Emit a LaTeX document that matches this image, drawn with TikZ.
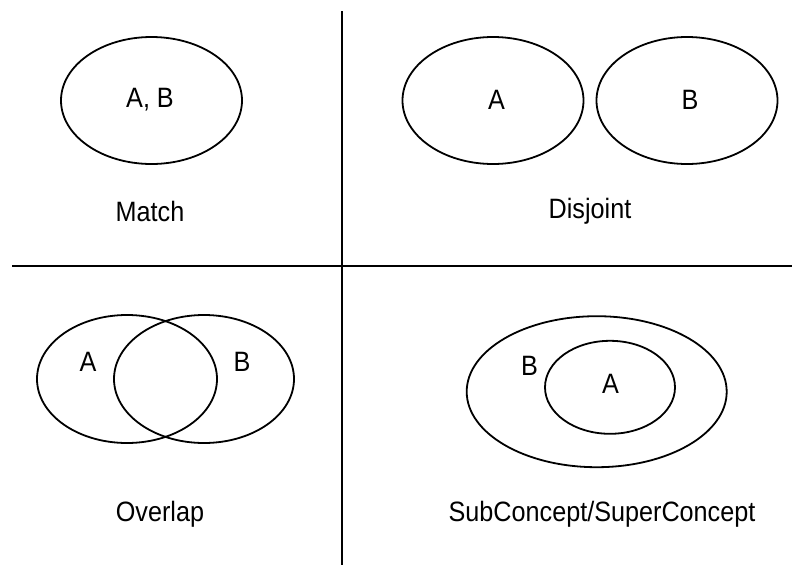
\documentclass[tikz,border=0pt]{standalone}
\usepackage{fontspec}
\setmainfont{Liberation Sans}
\usetikzlibrary{shapes.geometric}
\newcommand{\narrowtxt}[1]{\scalebox{0.9}[1]{#1}}
\begin{document}
\begin{tikzpicture}[x=1pt,y=-1pt,
  set/.style={draw, ellipse, line width=1.8pt, inner sep=0pt, minimum width=#1},
  lbl/.style={font=\fontsize{28}{32}\selectfont, inner sep=0pt},
  rule/.style={line width=1.8pt}]
\useasboundingbox (0,0) rectangle (792,565);
% dividers
\coordinate (vt) at (342,11);
\coordinate (vb) at (342,565);
\coordinate (hl) at (12,266);
\coordinate (hr) at (792,266);
\draw[rule] (vt) -- (vb);
\draw[rule] (hl) -- (hr);
% Match
\node[set=181pt, minimum height=127pt] (m) at (151.5,100.5) {};
\node[lbl] (mab) at (150,100) {\narrowtxt{A, B}};
\node[lbl] (mt) at (150,211) {\narrowtxt{Match}};
% Disjoint
\node[set=181pt, minimum height=127pt] (da) at (493,100.5) {};
\node[set=181pt, minimum height=127pt] (db) at (687,100.5) {};
\node[lbl] (dal) at (496.5,100) {\narrowtxt{A}};
\node[lbl] (dbl) at (690,100) {\narrowtxt{B}};
\node[lbl] (dt) at (590,211) {\narrowtxt{Disjoint}};
% Overlap
\node[set=180pt, minimum height=128pt] (oa) at (127,379) {};
\node[set=180pt, minimum height=128pt] (ob) at (204,379) {};
\node[lbl] (oal) at (88,362) {\narrowtxt{A}};
\node[lbl] (obl) at (242,362) {\narrowtxt{B}};
\node[lbl] (ot) at (160,514) {\narrowtxt{Overlap}};
% SubConcept/SuperConcept
\node[set=260pt, minimum height=151pt] (sb) at (596.7,391.7) {};
\node[set=130pt, minimum height=93pt] (sa) at (610,387.3) {};
\node[lbl] (sbl) at (529.5,366) {\narrowtxt{B}};
\node[lbl] (sal) at (610.5,384) {\narrowtxt{A}};
\node[lbl] (st) at (602,514) {\narrowtxt{SubConcept/SuperConcept}};
\end{tikzpicture}
\end{document}
